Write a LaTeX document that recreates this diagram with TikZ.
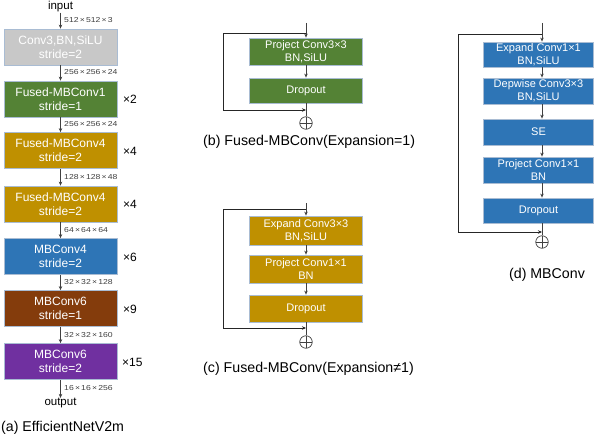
\documentclass[tikz,border=0pt]{standalone}
\usepackage{fontspec}
\setmainfont{Liberation Sans}
\newfontfamily\dimfont[FakeStretch=1.2]{Liberation Sans}
\usetikzlibrary{arrows.meta,calc}
\definecolor{cgray}{HTML}{C8C8C8}
\definecolor{cgreen}{HTML}{548235}
\definecolor{cgold}{HTML}{BF9000}
\definecolor{cblue}{HTML}{2E75B6}
\definecolor{cbrown}{HTML}{843C0C}
\definecolor{cpurple}{HTML}{7030A0}
\definecolor{cedge}{HTML}{A9BCD3}
\definecolor{cline}{HTML}{404040}
\newcommand{\tms}{\kern1.2pt×\kern1.2pt}
\begin{document}
\begin{tikzpicture}[x=1pt,y=-1pt,
  blk/.style={draw=cedge, line width=0.8pt, text=white, align=center,
    minimum width=113pt, inner sep=0pt, font=\fontsize{12}{14}\selectfont},
  sblk/.style={draw=cedge, line width=0.8pt, text=white, align=center,
    minimum width=113pt, inner sep=0pt, font=\fontsize{11}{13}\selectfont},
  dim/.style={anchor=west, inner sep=0pt, text=cline, font=\dimfont\fontsize{7.2}{8}\selectfont},
  mul/.style={anchor=west, inner sep=0pt, font=\fontsize{12}{14}\selectfont},
  lbl/.style={inner sep=0pt, font=\fontsize{11.5}{13}\selectfont},
  captxt/.style={anchor=west, inner sep=0pt, font=\fontsize{14.2}{16}\selectfont},
  arr/.style={draw=cline, line width=0.7pt, -{Stealth[length=4pt,width=3.5pt]}},
  ln/.style={draw=cline, line width=0.7pt},
  skip/.style={draw=black!85, line width=0.8pt, -{Stealth[length=4pt,width=3.5pt]}},
  oplus/.style={circle, draw=cline, line width=0.7pt, minimum size=12.5pt, inner sep=0pt,
    path picture={\draw[cline,line width=0.6pt]
      (path picture bounding box.north) -- (path picture bounding box.south)
      (path picture bounding box.west) -- (path picture bounding box.east);}}
]
\useasboundingbox (0,0) rectangle (600,436);

% ---------------- (a) EfficientNetV2m ----------------
\node[lbl] (in) at (60.5,7) {input};
\node[blk, fill=cgray,   minimum height=36pt] (a1) at (60.5,47)    {Conv3,BN,SiLU\\stride=2};
\node[blk, fill=cgreen,  minimum height=36pt] (a2) at (60.5,99)    {Fused-MBConv1\\stride=1};
\node[blk, fill=cgold,   minimum height=36pt] (a3) at (60.5,150.5) {Fused-MBConv4\\stride=2};
\node[blk, fill=cgold,   minimum height=36pt] (a4) at (60.5,204)   {Fused-MBConv4\\stride=2};
\node[blk, fill=cblue,   minimum height=36pt] (a5) at (60.5,256.5) {MBConv4\\stride=2};
\node[blk, fill=cbrown,  minimum height=36pt] (a6) at (60.5,308.5) {MBConv6\\stride=1};
\node[blk, fill=cpurple, minimum height=36pt] (a7) at (60.5,361.5) {MBConv6\\stride=2};
\node[lbl] (out) at (60.5,403) {output};

\draw[arr] (in) -- (a1);
\draw[arr] (a1) -- (a2);
\draw[arr] (a2) -- (a3);
\draw[arr] (a3) -- (a4);
\draw[arr] (a4) -- (a5);
\draw[arr] (a5) -- (a6);
\draw[arr] (a6) -- (a7);
\draw[arr] (a7) -- (out);

\node[dim] (d0) at (64,20.5)  {512\tms512\tms3};
\node[dim] (d1) at (64,72)    {256\tms256\tms24};
\node[dim] (d2) at (64,124.5) {256\tms256\tms24};
\node[dim] (d3) at (64,177)   {128\tms128\tms48};
\node[dim] (d4) at (64,230)   {64\tms64\tms64};
\node[dim] (d5) at (64,282)   {32\tms32\tms128};
\node[dim] (d6) at (64,335)   {32\tms32\tms160};
\node[dim] (d7) at (64,388)   {16\tms16\tms256};

\node[mul] (m2) at (123,99)    {×2};
\node[mul] (m3) at (123,151)   {×4};
\node[mul] (m4) at (123,204)   {×4};
\node[mul] (m5) at (123,257)   {×6};
\node[mul] (m6) at (123,309)   {×9};
\node[mul] (m7) at (122,362)   {×15};

\node[captxt] (capa) at (1,428) {(a) EfficientNetV2m};

% ---------------- (b) Fused-MBConv(Expansion=1) ----------------
\coordinate (bt) at (306,23);
\node[sblk, fill=cgreen, minimum height=27pt] (b1) at (306,51.5) {Project Conv3×3\\BN,SiLU};
\node[sblk, fill=cgreen, minimum height=25pt] (b2) at (306,90.5) {Dropout};
\node[oplus] (bo) at (306,123) {};
\draw[arr] (bt) -- (b1);
\draw[arr] (b1) -- (b2);
\draw[ln] (b2) -- (bo);
\coordinate (bs) at (306,33);
\coordinate (bl1) at (223,33);
\coordinate (bl2) at (223,110);
\coordinate (be) at (306,110);
\draw[skip] (bs) -- (bl1) -- (bl2) -- (be);
\node[captxt] (capb) at (203,142) {(b) Fused-MBConv(Expansion=1)};

% ---------------- (c) Fused-MBConv(Expansion≠1) ----------------
\coordinate (ct) at (306,203);
\node[sblk, fill=cgold, minimum height=29pt] (c1) at (306,230.5) {Expand Conv3×3\\BN,SiLU};
\node[sblk, fill=cgold, minimum height=28pt] (c2) at (306,269)   {Project Conv1×1\\BN};
\node[sblk, fill=cgold, minimum height=27pt] (c3) at (306,308.5) {Dropout};
\node[oplus] (co) at (306,342) {};
\draw[arr] (ct) -- (c1);
\draw[arr] (c1) -- (c2);
\draw[arr] (c2) -- (c3);
\draw[ln] (c3) -- (co);
\coordinate (cs) at (306,209);
\coordinate (cl1) at (223,209);
\coordinate (cl2) at (223,328);
\coordinate (ce) at (306,328);
\draw[skip] (cs) -- (cl1) -- (cl2) -- (ce);
\node[captxt] (capc) at (203,369) {(c) Fused-MBConv(Expansion≠1)};

% ---------------- (d) MBConv ----------------
\coordinate (dt) at (542,23);
\node[sblk, fill=cblue, minimum width=110pt, minimum height=25pt] (e1) at (538.5,54.5) {Expand Conv1×1\\BN,SiLU};
\node[sblk, fill=cblue, minimum width=110pt, minimum height=26pt] (e2) at (538.5,91)   {Depwise Conv3×3\\BN,SiLU};
\node[sblk, fill=cblue, minimum width=110pt, minimum height=26pt] (e3) at (538.5,132)  {SE};
\node[sblk, fill=cblue, minimum width=110pt, minimum height=26pt] (e4) at (538.5,170)  {Project Conv1×1\\BN};
\node[sblk, fill=cblue, minimum width=110pt, minimum height=25pt] (e5) at (538.5,210.5) {Dropout};
\node[oplus] (eo) at (542,242) {};
\draw[arr] (dt) -- (dt |- e1.north);
\draw[arr] (dt |- e1.south) -- (dt |- e2.north);
\draw[arr] (dt |- e2.south) -- (dt |- e3.north);
\draw[arr] (dt |- e3.south) -- (dt |- e4.north);
\draw[arr] (dt |- e4.south) -- (dt |- e5.north);
\draw[ln] (dt |- e5.south) -- (eo);
\coordinate (es) at (542,34);
\coordinate (el1) at (458,34);
\coordinate (el2) at (458,232);
\coordinate (ee) at (542,232);
\draw[skip] (es) -- (el1) -- (el2) -- (ee);
\node[captxt, anchor=center] (capd) at (547,275) {(d) MBConv};
\end{tikzpicture}
\end{document}
